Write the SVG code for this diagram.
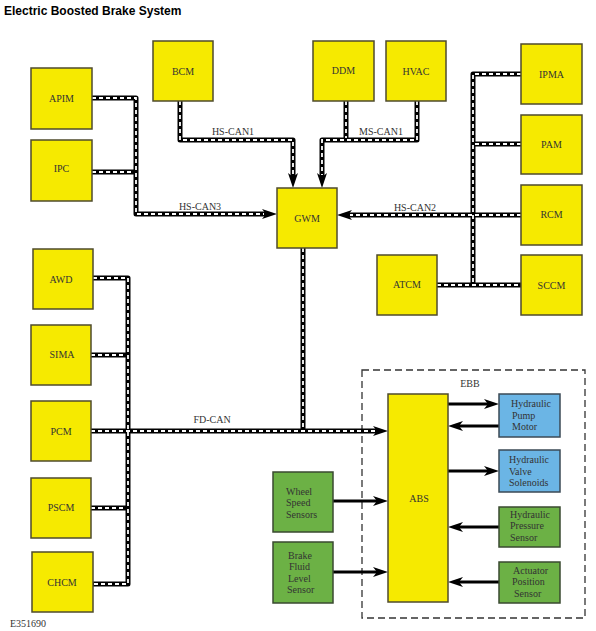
<svg xmlns="http://www.w3.org/2000/svg" width="596" height="631" viewBox="0 0 596 631" font-family="Liberation Serif, serif">
<style>
.y{fill:#F6EA00;stroke:#4f4b2c;stroke-width:1.5}
.b{fill:#6BB5E5;stroke:#3b4a55;stroke-width:1.5}
.g{fill:#6CB145;stroke:#3a4a30;stroke-width:1.5}
.t{font-family:"Liberation Serif",serif;font-size:10px;fill:#333}
.c{text-anchor:middle}
.bus{fill:none;stroke:#000;stroke-width:5;stroke-linejoin:round}
.dash{fill:none;stroke:#fff;stroke-width:1.8;stroke-dasharray:4 3}
.ar{fill:none;stroke:#000;stroke-width:3}
</style>
<defs>
<marker id="ah" markerUnits="userSpaceOnUse" markerWidth="16" markerHeight="11" refX="4" refY="5" orient="auto" overflow="visible">
<path d="M0,0 L15,5 L0,10 L4,5 z" fill="#000"/>
</marker>
</defs>
<rect width="596" height="631" fill="#fff"/>
<text x="4" y="15" font-family="Liberation Sans,Arial,sans-serif" font-weight="bold" font-size="12" fill="#000">Electric Boosted Brake System</text>
<rect x="362" y="370" width="223" height="248" fill="none" stroke="#333" stroke-width="1.3" stroke-dasharray="7 4"/>
<text class="t c" x="470" y="387">EBB</text>
<g id="connectors">
<path class="bus" d="M92,98 H136 V214 H266" marker-end="url(#ah)"/>
<path class="bus" d="M92,172 H136"/>
<path class="bus" d="M180,101 V140 H293 V177" marker-end="url(#ah)"/>
<path class="bus" d="M346,101 V140"/>
<path class="bus" d="M417,101 V140 H322 V177" marker-end="url(#ah)"/>
<path class="bus" d="M521,215 H348" marker-end="url(#ah)"/>
<path class="bus" d="M521,74 H473 V285"/>
<path class="bus" d="M473,144 H521"/>
<path class="bus" d="M437,285 H521"/>
<path class="bus" d="M91,431 H377" marker-end="url(#ah)"/>
<path class="bus" d="M303,248 V431"/>
<path class="bus" d="M93,278 H128 V584 H93"/>
<path class="bus" d="M91,355 H128"/>
<path class="bus" d="M91,508 H128"/>
<path class="dash" d="M92,98 H136 V214 H264"/>
<path class="dash" d="M92,172 H134"/>
<path class="dash" d="M180,101 V140 H293 V175"/>
<path class="dash" d="M346,101 V138"/>
<path class="dash" d="M417,101 V140 H322 V175"/>
<path class="dash" d="M521,215 H350"/>
<path class="dash" d="M521,74 H473 V285"/>
<path class="dash" d="M475,144 H521"/>
<path class="dash" d="M437,285 H521"/>
<path class="dash" d="M91,431 H375"/>
<path class="dash" d="M303,248 V429"/>
<path class="dash" d="M93,278 H128 V584 H93"/>
<path class="dash" d="M91,355 H126"/>
<path class="dash" d="M91,508 H126"/>
<path class="ar" d="M448,404 H488" marker-end="url(#ah)"/>
<path class="ar" d="M499,426 H459" marker-end="url(#ah)"/>
<path class="ar" d="M448,471 H488" marker-end="url(#ah)"/>
<path class="ar" d="M499,527 H459" marker-end="url(#ah)"/>
<path class="ar" d="M499,582 H459" marker-end="url(#ah)"/>
<path class="ar" d="M333,501 H377" marker-end="url(#ah)"/>
<path class="ar" d="M333,572 H377" marker-end="url(#ah)"/>
</g>
<g class="t">
<text class="t c" x="200" y="210">HS-CAN3</text>
<text class="t c" x="233" y="135">HS-CAN1</text>
<text class="t c" x="381" y="135">MS-CAN1</text>
<text class="t c" x="415" y="211">HS-CAN2</text>
<text class="t c" x="212" y="423">FD-CAN</text>
</g>
<g id="APIM"><rect class="y" x="31" y="68" width="61" height="61"/><text class="t c" x="61.5" y="102">APIM</text></g>
<g id="IPC"><rect class="y" x="31" y="140" width="61" height="61"/><text class="t c" x="61.5" y="172">IPC</text></g>
<g id="BCM"><rect class="y" x="153" y="41" width="60" height="60"/><text class="t c" x="183" y="75">BCM</text></g>
<g id="DDM"><rect class="y" x="313" y="41" width="61" height="60"/><text class="t c" x="343.5" y="74">DDM</text></g>
<g id="HVAC"><rect class="y" x="386" y="41" width="60" height="60"/><text class="t c" x="416" y="75">HVAC</text></g>
<g id="IPMA"><rect class="y" x="521" y="44" width="61" height="60"/><text class="t c" x="551.5" y="78">IPMA</text></g>
<g id="PAM"><rect class="y" x="521" y="115" width="61" height="59"/><text class="t c" x="551.5" y="148">PAM</text></g>
<g id="RCM"><rect class="y" x="521" y="185" width="61" height="60"/><text class="t c" x="551.5" y="218">RCM</text></g>
<g id="ATCM"><rect class="y" x="377" y="255" width="60" height="60"/><text class="t c" x="407" y="288">ATCM</text></g>
<g id="SCCM"><rect class="y" x="521" y="255" width="61" height="60"/><text class="t c" x="551.5" y="289">SCCM</text></g>
<g id="GWM"><rect class="y" x="277" y="188" width="60" height="60"/><text class="t c" x="307" y="222">GWM</text></g>
<g id="AWD"><rect class="y" x="33" y="249" width="60" height="60"/><text class="t c" x="61" y="283">AWD</text></g>
<g id="SIMA"><rect class="y" x="31" y="325" width="60" height="60"/><text class="t c" x="62" y="358">SIMA</text></g>
<g id="PCM"><rect class="y" x="31" y="401" width="60" height="60"/><text class="t c" x="61" y="435">PCM</text></g>
<g id="PSCM"><rect class="y" x="31" y="478" width="60" height="60"/><text class="t c" x="61" y="511">PSCM</text></g>
<g id="CHCM"><rect class="y" x="32" y="552" width="61" height="60"/><text class="t c" x="62" y="586">CHCM</text></g>
<g id="ABS"><rect class="y" x="388" y="394" width="60" height="208"/><text class="t c" x="419" y="502">ABS</text></g>
<g id="HydraulicPumpMotor"><rect class="b" x="499" y="394" width="61" height="43"/><text class="t" x="511" y="407">Hydraulic<tspan x="512" dy="11.5">Pump</tspan><tspan x="512" dy="11.5">Motor</tspan></text></g>
<g id="HydraulicValveSolenoids"><rect class="b" x="499" y="450" width="61" height="42"/><text class="t" x="509" y="463">Hydraulic<tspan x="509" dy="11.5">Valve</tspan><tspan x="509" dy="11.5">Solenoids</tspan></text></g>
<g id="HydraulicPressureSensor"><rect class="g" x="499" y="507" width="61" height="40"/><text class="t" x="510" y="517.5">Hydraulic<tspan x="510" dy="11.5">Pressure</tspan><tspan x="510" dy="11.5">Sensor</tspan></text></g>
<g id="ActuatorPositionSensor"><rect class="g" x="499" y="562" width="61" height="41"/><text class="t" x="513" y="573.5">Actuator<tspan x="512" dy="11.5">Position</tspan><tspan x="514" dy="11.5">Sensor</tspan></text></g>
<g id="WheelSpeedSensors"><rect class="g" x="273" y="472" width="60" height="60"/><text class="t" x="286" y="494.5">Wheel<tspan x="286" dy="11.5">Speed</tspan><tspan x="286" dy="11.5">Sensors</tspan></text></g>
<g id="BrakeFluidLevelSensor"><rect class="g" x="273" y="542" width="60" height="61"/><text class="t" x="288" y="558.5">Brake<tspan x="289" dy="11.5">Fluid</tspan><tspan x="288" dy="11.5">Level</tspan><tspan x="287" dy="11.5">Sensor</tspan></text></g>
<text class="t" x="10" y="627" fill="#000">E351690</text>
</svg>
